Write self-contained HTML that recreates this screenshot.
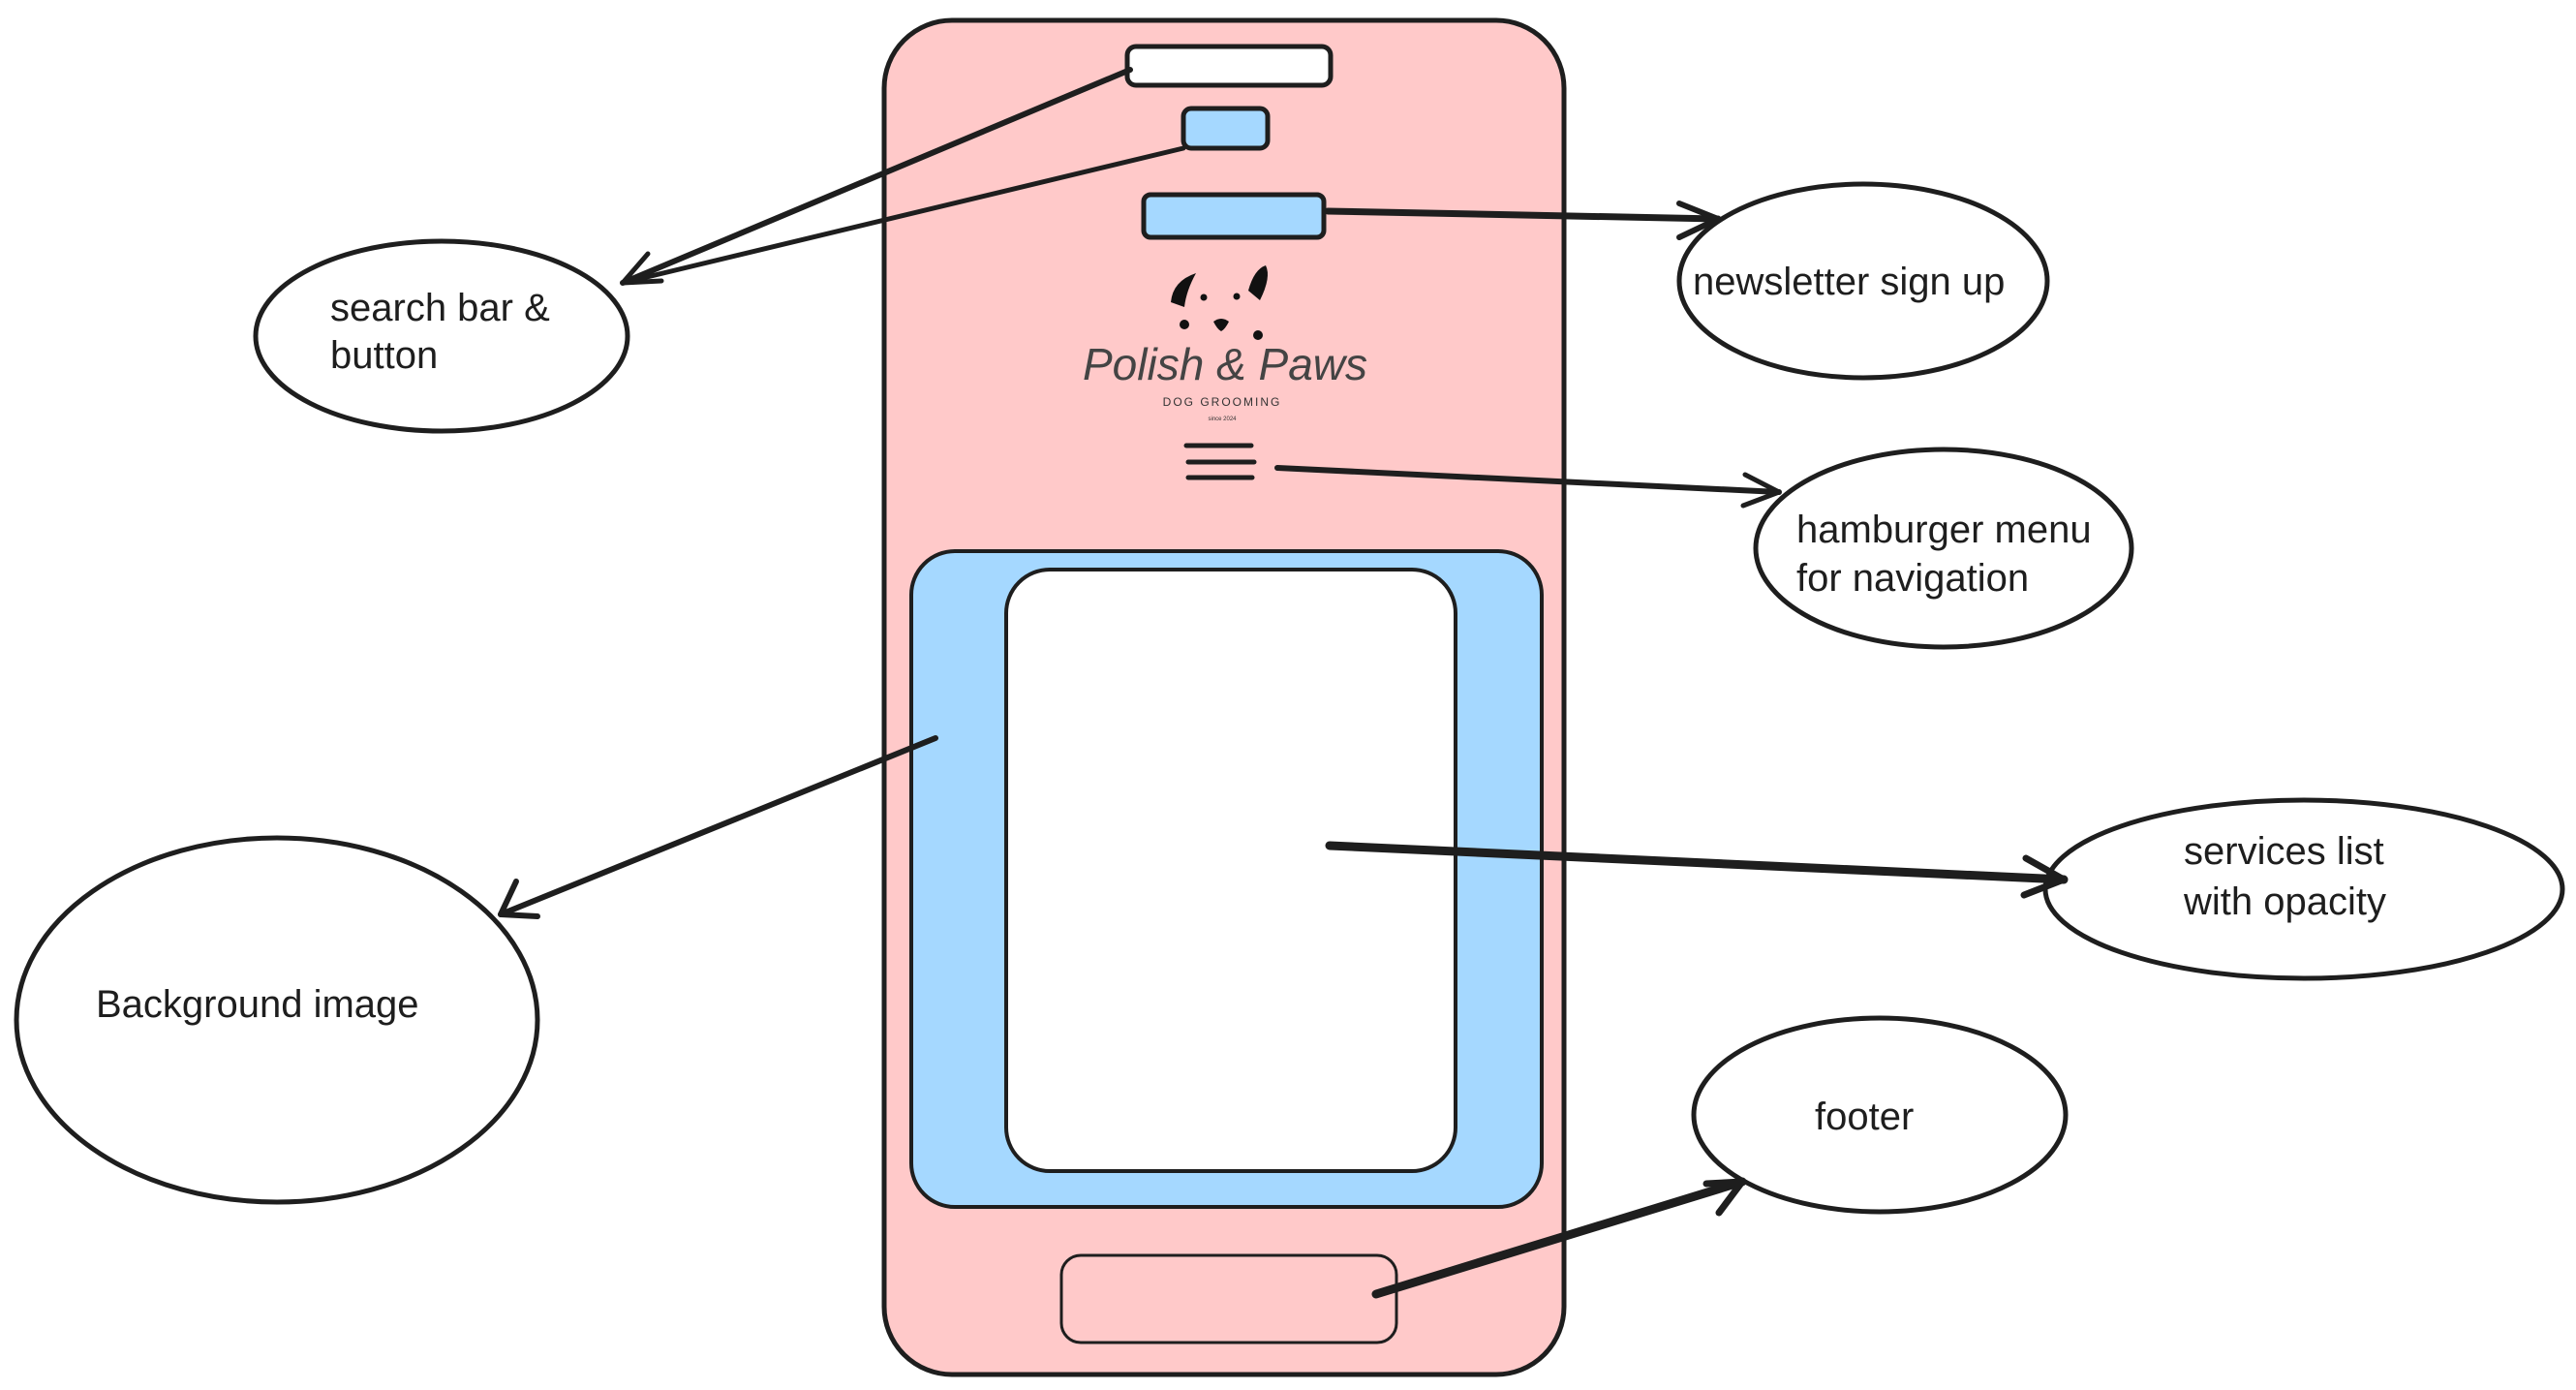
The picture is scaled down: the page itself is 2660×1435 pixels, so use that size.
<!DOCTYPE html>
<html><head><meta charset="utf-8"><style>
html,body{margin:0;padding:0;background:#fff;}
svg{display:block;}
text{font-family:"Liberation Sans",sans-serif;fill:#1e1e1e;}
</style></head><body>
<svg width="2660" height="1435" viewBox="0 0 2660 1435" xmlns="http://www.w3.org/2000/svg">
<g transform="translate(-3,0)">
<!-- phone -->
<rect x="916" y="21" width="702" height="1398" rx="70" fill="#ffc9c9" stroke="#1e1e1e" stroke-width="5"/>
<rect x="1167" y="48" width="210" height="40" rx="9" fill="#fff" stroke="#1e1e1e" stroke-width="5"/>
<rect x="1225" y="112" width="87" height="41" rx="8" fill="#a5d8ff" stroke="#1e1e1e" stroke-width="5"/>
<rect x="1184" y="201" width="186" height="44" rx="7" fill="#a5d8ff" stroke="#1e1e1e" stroke-width="5"/>
<!-- logo -->
<path d="M1212 312 Q1214 290 1238 282 Q1228 300 1226 317 Z" fill="#111"/>
<path d="M1292 300 Q1298 278 1310 274 Q1316 286 1304 310 Z" fill="#111"/>
<circle cx="1246" cy="307" r="3.5" fill="#111"/><circle cx="1280" cy="306" r="3.5" fill="#111"/>
<path d="M1256 332 q8 -6 16 0 q-4 8 -8 10 q-4 -2 -8 -10z" fill="#111"/>
<circle cx="1226" cy="335" r="5" fill="#111"/><circle cx="1302" cy="346" r="5" fill="#111"/>
<text x="1268" y="392" font-family="Liberation Serif,serif" font-style="italic" font-size="46" text-anchor="middle" style="fill:#444">Polish &amp; Paws</text>
<text x="1265" y="419" font-size="12" text-anchor="middle" letter-spacing="2" style="fill:#333">DOG GROOMING</text>
<text x="1265" y="434" font-size="6" text-anchor="middle" style="fill:#333">since 2024</text>
<g stroke="#1e1e1e" stroke-width="5" stroke-linecap="round">
<line x1="1228" y1="460" x2="1295" y2="460"/>
<line x1="1230" y1="477" x2="1298" y2="477"/>
<line x1="1230" y1="493" x2="1296" y2="493"/>
</g>
<rect x="944" y="569" width="651" height="677" rx="45" fill="#a5d8ff" stroke="#1e1e1e" stroke-width="4"/>
<rect x="1042" y="588" width="464" height="621" rx="45" fill="#fff" stroke="#1e1e1e" stroke-width="4"/>
<rect x="1099" y="1296" width="346" height="90" rx="20" fill="#ffc9c9" stroke="#1e1e1e" stroke-width="3"/>
<g fill="#fff" stroke="#1e1e1e" stroke-width="5">
<ellipse cx="459" cy="347" rx="192" ry="98"/>
<ellipse cx="1927" cy="290" rx="190" ry="100"/>
<ellipse cx="2010" cy="566" rx="194" ry="102"/>
<ellipse cx="2382" cy="918" rx="267" ry="92"/>
<ellipse cx="289" cy="1053" rx="269" ry="188"/>
<ellipse cx="1944" cy="1151" rx="192" ry="100"/>
</g>
<g stroke="#1e1e1e" fill="none" stroke-linecap="round" stroke-linejoin="round">
<line x1="1170" y1="72" x2="646" y2="292" stroke-width="6"/>
<line x1="1225" y1="153" x2="646" y2="292" stroke-width="5"/>
<polyline points="672,262 646,292 686,290" stroke-width="5"/>
<line x1="1374" y1="218" x2="1777" y2="226" stroke-width="7"/>
<polyline points="1737,210 1777,226 1737,245" stroke-width="6"/>
<line x1="1322" y1="483" x2="1840" y2="508" stroke-width="6"/>
<polyline points="1805,490 1840,508 1803,522" stroke-width="5"/>
<line x1="969" y1="762" x2="520" y2="944" stroke-width="6"/>
<polyline points="536,910 520,944 558,946" stroke-width="6"/>
<line x1="1376" y1="873" x2="2134" y2="908" stroke-width="9"/>
<polyline points="2095,886 2134,908 2093,924" stroke-width="7"/>
<line x1="1424" y1="1336" x2="1802" y2="1220" stroke-width="9"/>
<polyline points="1765,1222 1802,1220 1778,1252" stroke-width="7"/>
</g>
<g font-size="40">
<text x="344" y="331">search bar &amp;</text>
<text x="344" y="380">button</text>
<text x="1751" y="304">newsletter sign up</text>
<text x="1858" y="560">hamburger menu</text>
<text x="1858" y="610">for navigation</text>
<text x="2258" y="892">services list</text>
<text x="2258" y="944">with opacity</text>
<text x="102" y="1050">Background image</text>
<text x="1877" y="1166">footer</text>
</g>
</g>
</svg>
</body></html>
